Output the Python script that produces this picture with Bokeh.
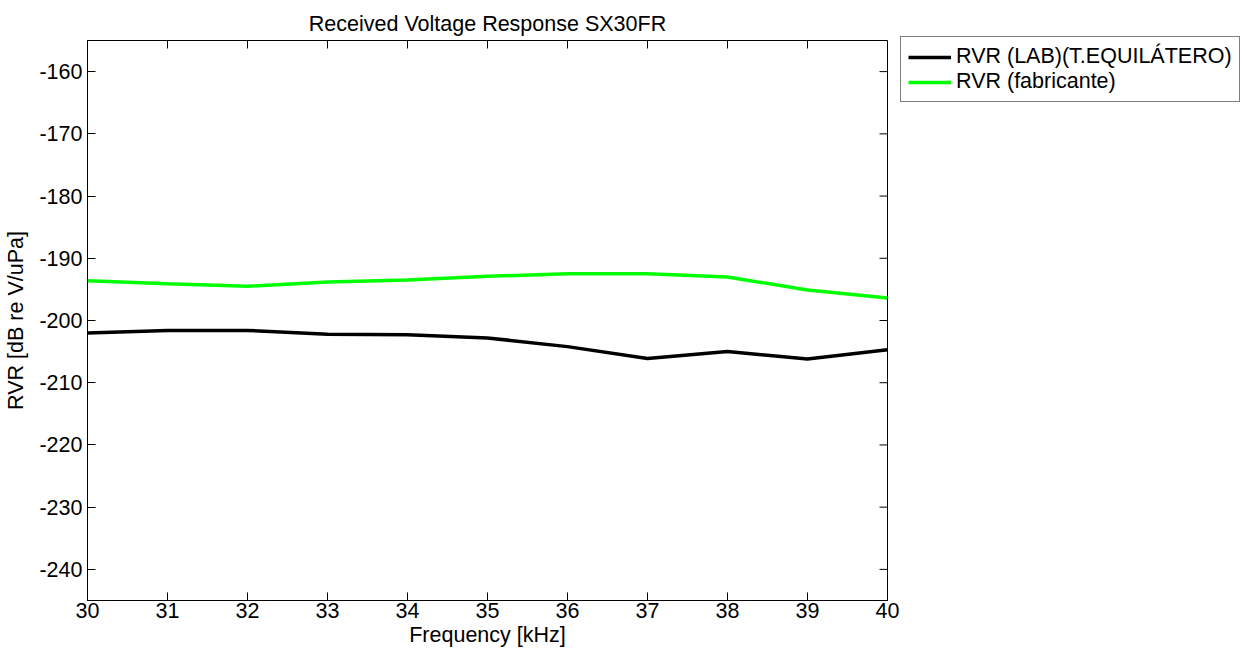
from bokeh.plotting import figure
from bokeh.models import Legend, LegendItem, Range1d, FixedTicker
from bokeh.embed import file_html
from bokeh.resources import INLINE

freq = [30, 31, 32, 33, 34, 35, 36, 37, 38, 39, 40]
rvr_lab = [-202.0, -201.6, -201.6, -202.2, -202.3, -202.8, -204.2, -206.1, -205.0, -206.2, -204.7]
rvr_fab = [-193.6, -194.1, -194.5, -193.8, -193.5, -192.9, -192.5, -192.5, -193.0, -195.1, -196.4]
x_ticks = list(range(30, 41))
y_ticks = [-240, -230, -220, -210, -200, -190, -180, -170, -160]
x_lim = (30, 40)
y_lim = (-245, -155)

FONT = "Liberation Sans"
FS = "21.5px"

p = figure(frame_width=800, frame_height=560, output_backend="svg", toolbar_location=None,
           x_range=Range1d(*x_lim), y_range=Range1d(*y_lim),
           min_border_left=87, min_border_right=0, min_border_top=40, min_border_bottom=56,
           background_fill_color="white", border_fill_color="white")

p.title.text = "Received Voltage Response SX30FR"
p.title.align = "center"
p.title.text_font = FONT
p.title.text_font_size = FS
p.title.text_font_style = "normal"
p.title.text_color = "black"

p.xgrid.visible = False
p.ygrid.visible = False
p.outline_line_color = "black"
p.outline_line_width = 1
p.outline_line_alpha = 1

l1 = p.line(freq, rvr_lab, line_color="black", line_width=3.5)
l2 = p.line(freq, rvr_fab, line_color="#00ff00", line_width=3.5)

# inward tick marks on the top and right edges (half of each dash is clipped by the frame)
p.scatter(x_ticks, [y_lim[1]] * len(x_ticks), marker="dash", angle=1.5708, size=16,
          line_color="black", line_width=1)
p.scatter([x_lim[1]] * len(y_ticks), y_ticks, marker="dash", size=16,
          line_color="black", line_width=1)

def style(ax):
    ax.major_tick_in = 8
    ax.major_tick_out = 0
    ax.minor_tick_in = 0
    ax.minor_tick_out = 0
    ax.axis_line_color = "black"
    ax.major_tick_line_color = "black"
    ax.major_label_text_font = FONT
    ax.major_label_text_font_size = FS
    ax.major_label_text_color = "black"
    ax.axis_label_text_font = FONT
    ax.axis_label_text_font_size = FS
    ax.axis_label_text_font_style = "normal"
    ax.axis_label_text_color = "black"

p.xaxis.ticker = FixedTicker(ticks=x_ticks)
p.yaxis.ticker = FixedTicker(ticks=y_ticks)
p.yaxis.major_label_overrides = {t: str(t) for t in y_ticks}
style(p.xaxis[0])
style(p.yaxis[0])
p.xaxis.axis_label = "Frequency [kHz]"
p.yaxis.axis_label = "RVR [dB re V/uPa]"
p.xaxis.major_label_standoff = 2
p.xaxis.axis_label_standoff = 2
p.yaxis.major_label_standoff = 5
p.yaxis.axis_label_standoff = 8

legend = Legend(items=[LegendItem(label="RVR (LAB)(T.EQUILÁTERO)", renderers=[l1]),
                       LegendItem(label="RVR (fabricante)", renderers=[l2])],
                location=(13, 498), orientation="vertical")
legend.label_text_font = FONT
legend.label_text_font_size = FS
legend.label_text_color = "black"
legend.glyph_width = 43
legend.glyph_height = 24
legend.label_height = 24
legend.label_standoff = 5
legend.spacing = 0
legend.padding = 7
legend.margin = 0
legend.border_line_color = "black"
legend.border_line_width = 1
legend.background_fill_color = "white"
legend.background_fill_alpha = 1
p.add_layout(legend, "right")

open("out.html", "w").write(file_html(p, INLINE))
